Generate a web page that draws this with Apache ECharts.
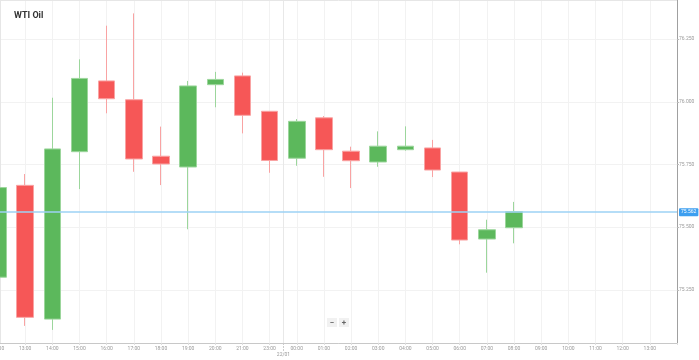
<!DOCTYPE html>
<html>
<head>
<meta charset="utf-8">
<script src="https://cdn.jsdelivr.net/npm/echarts@6/dist/echarts.min.js"></script>
<style>
html,body{margin:0;padding:0;background:#fff;}
#chart{width:699px;height:360px;}
</style>
</head>
<body>
<div id="chart"></div>
<script>
const categories = ['12:00','13:00','14:00','15:00','16:00','17:00','18:00','19:00','20:00','21:00','23:00',
  '00:00','01:00','02:00','03:00','04:00','05:00','06:00','07:00','08:00','09:00','10:00','11:00','12:00','13:00','14:00'];
const openV  = [75.301,75.667,75.134,75.801,76.083,76.008,75.783,75.740,76.068,76.103,75.962,75.775,75.936,75.803,75.760,75.809,75.816,75.720,75.453,75.498];
const closeV = [75.658,75.141,75.812,76.093,76.012,75.772,75.752,76.063,76.089,75.946,75.766,75.922,75.809,75.765,75.823,75.823,75.728,75.449,75.490,75.562];
const lowV   = [75.301,75.107,75.091,75.652,75.954,75.721,75.668,75.492,75.978,75.874,75.717,75.745,75.701,75.656,75.741,75.805,75.700,75.432,75.319,75.436];
const highV  = [75.658,75.712,76.016,76.169,76.303,76.352,75.901,76.083,76.119,76.116,75.962,75.931,75.943,75.821,75.882,75.902,75.848,75.720,75.530,75.601];
const yTicks = [75.25,75.5,75.75,76.0,76.25];
const currentPrice = 75.562;
const dateLabel = '22/01';

const candleData = categories.map((c,i) => i < openV.length ? [openV[i], closeV[i], lowV[i], highV[i]] : '-');

const chart = echarts.init(document.getElementById('chart'), null, {renderer:'canvas'});
const FONT = 'Roboto';
chart.setOption({
  animation:false,
  backgroundColor:'#fff',
  textStyle:{fontFamily:FONT},
  title:{text:'WTI Oil', left:9, top:6, textStyle:{fontSize:9, fontWeight:'bold', color:'#333', fontFamily:FONT}},
  grid:{left:-2, right:22, top:0, bottom:17, containLabel:false, outerBoundsMode:'none'},
  xAxis:{
    type:'category', data:categories, boundaryGap:false,
    axisLine:{show:true, lineStyle:{color:'#c8c8c8', width:1}},
    axisTick:{show:true, length:2, interval:0, lineStyle:{color:'#ddd'}},
    axisLabel:{fontSize:5, color:'#999', interval:0, margin:3, fontFamily:FONT, hideOverlap:false,
      formatter:(v,i)=> i===categories.length-1 ? '' : v},
    splitLine:{show:true, interval:0, lineStyle:{color:'#f2f2f2', width:1}}
  },
  yAxis:{
    type:'value', position:'right', min:75.0388, max:76.4054, scale:true,
    axisLine:{show:true, lineStyle:{color:'#a0a0a0', width:1}},
    axisTick:{show:true, length:2, customValues:yTicks, lineStyle:{color:'#bbb'}},
    axisLabel:{fontSize:5, color:'#999', margin:2, fontFamily:FONT, customValues:yTicks,
      formatter:v=>v.toFixed(3)},
    splitLine:{show:true, lineStyle:{color:'#f2f2f2', width:1}}
  },
  series:[{
    type:'candlestick',
    data:candleData,
    barWidth:17,
    itemStyle:{
      color:'#5cb85c', color0:'#f65757',
      borderColor:'#9cd69c', borderColor0:'#f9a3a3', borderWidth:1
    },
    markLine:{
      silent:true, symbol:'none',
      lineStyle:{color:'#9dd2f4', width:1.5, type:'solid'},
      label:{show:true, position:'end', distance:2, formatter:currentPrice.toFixed(3),
        backgroundColor:'#3d9ff0', color:'#fff', fontSize:5, padding:[2,2,1,2], borderRadius:1, fontFamily:FONT},
      data:[{yAxis:currentPrice}]
    }
  }]
});

function drawExtras(){
  const a = chart.convertToPixel({xAxisIndex:0}, 10);
  const b = chart.convertToPixel({xAxisIndex:0}, 11);
  const sepX = Math.round((a + b)/2) + 0.5;
  const top = chart.convertToPixel({yAxisIndex:0}, 76.4054);
  const bottom = chart.convertToPixel({yAxisIndex:0}, 75.0388);
  chart.setOption({
    graphic:[
      {type:'line', shape:{x1:sepX, y1:top, x2:sepX, y2:bottom}, style:{stroke:'#e8e8e8', lineWidth:1}, z:0},
      {type:'line', shape:{x1:sepX, y1:bottom, x2:sepX, y2:bottom+9}, style:{stroke:'#ccc', lineWidth:1, lineDash:[2,1]}},
      {type:'text', x:sepX, y:bottom+9, style:{text:dateLabel, fontSize:5, fill:'#999', align:'center', verticalAlign:'top', fontFamily:FONT}},
      {type:'line', shape:{x1:0, y1:0.5, x2:677, y2:0.5}, style:{stroke:'#e6e6e6', lineWidth:1}},
      {type:'line', shape:{x1:0.5, y1:0, x2:0.5, y2:bottom}, style:{stroke:'#e6e6e6', lineWidth:1}},
      {type:'rect', shape:{x:327, y:318, width:10, height:9}, style:{fill:'#f1f1f1'}},
      {type:'rect', shape:{x:339, y:318, width:10, height:9}, style:{fill:'#f1f1f1'}},
      {type:'text', x:332, y:322.5, style:{text:'−', fontSize:8, fontWeight:'bold', fill:'#666', align:'center', verticalAlign:'middle', fontFamily:FONT}},
      {type:'text', x:344, y:322.5, style:{text:'+', fontSize:8, fontWeight:'bold', fill:'#666', align:'center', verticalAlign:'middle', fontFamily:FONT}}
    ]
  });
}
drawExtras();
</script>
</body>
</html>
